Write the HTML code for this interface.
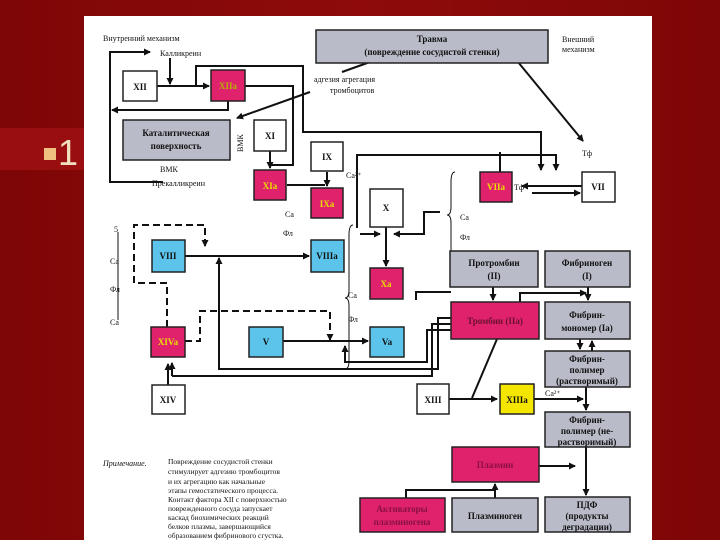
<!DOCTYPE html>
<html><head><meta charset="utf-8">
<style>
html,body{margin:0;padding:0;}
body{width:720px;height:540px;overflow:hidden;background:linear-gradient(90deg,#7e0606,#8f0b0b 50%,#7e0606);position:relative;font-family:"Liberation Serif",serif;}
.band{position:absolute;left:0;top:128px;width:90px;height:42px;background:#990f0f;}
.bul{position:absolute;left:44px;top:148px;width:12px;height:12px;background:#f0c080;}
.one{position:absolute;left:58px;top:132px;color:#f0e0c0;font:36px "Liberation Sans",sans-serif;}
svg{position:absolute;left:0;top:0;}
</style></head><body>
<div class="band"></div><div class="bul"></div><div class="one">1</div>
<svg width="720" height="540" viewBox="0 0 720 540" font-family="Liberation Serif, serif">
<defs>
<marker id="a" markerWidth="7" markerHeight="7" refX="6" refY="3.5" orient="auto" markerUnits="userSpaceOnUse"><path d="M0,0 L7,3.5 L0,7 z" fill="#111"/></marker>
</defs>
<rect x="84" y="16" width="568" height="524" fill="#fff"/>
<g fill="none" stroke="#111" stroke-width="2">
<path d="M163,182 H110 V52 H150" marker-end="url(#a)"/>
<path d="M228,101 V110 H112" marker-end="url(#a)"/>
<path d="M170,58 V84" marker-end="url(#a)"/>
<path d="M157,86 H209" marker-end="url(#a)"/>
<path d="M196,86 V66 H303 V132 H541 V170" marker-end="url(#a)"/>
<path d="M245,86 H293 V165 H270" />
<path d="M270,151 V168" marker-end="url(#a)"/>
<path d="M518,62 L583,141" marker-end="url(#a)"/>
<path d="M370,62 L342,72"/>
<path d="M310,92 L237,118" marker-end="url(#a)"/>
<path d="M287,185 H325"/>
<path d="M327,172 V186" marker-end="url(#a)"/>
<path d="M357,228 V155 H556 V170" marker-end="url(#a)"/>
<path d="M500,172 V152"/>
<path d="M582,186 H522" marker-end="url(#a)"/>
<path d="M532,193 H580" marker-end="url(#a)"/>
<path d="M386,227 V266" marker-end="url(#a)"/>
<path d="M360,234 H380" marker-end="url(#a)"/>
<path d="M440,212 H424 V234 H394" marker-end="url(#a)"/>
<path d="M185,256 H309" marker-end="url(#a)"/>
<path d="M283,341 H368" marker-end="url(#a)"/>
<path d="M451,318 H438 V369 H219 V258" marker-end="url(#a)"/>
<path d="M451,324 H432 V376 H172" />
<path d="M172,376 V363" marker-end="url(#a)"/>
<path d="M451,330 H427 V362 H345 V346" marker-end="url(#a)"/>
<path d="M168,385 V364" marker-end="url(#a)"/>
<path d="M497,339 L472,398"/>
<path d="M449,399 H497" marker-end="url(#a)"/>
<path d="M534,399 H583" marker-end="url(#a)"/>
<path d="M493,287 V300" marker-end="url(#a)"/>
<path d="M416,300 V292 H451"/>
<path d="M588,287 V300" marker-end="url(#a)"/>
<path d="M520,302 V293 H586" marker-end="url(#a)"/>
<path d="M580,339 V349" marker-end="url(#a)"/>
<path d="M592,351 V341" marker-end="url(#a)"/>
<path d="M586,387 V410" marker-end="url(#a)"/>
<path d="M586,447 V495" marker-end="url(#a)"/>
<path d="M539,466 H575" marker-end="url(#a)"/>
<path d="M406,498 V490 H495 V484" marker-end="url(#a)"/>
<path d="M495,498 V484"/>
</g>
<g fill="none" stroke="#111" stroke-width="2" stroke-dasharray="7,4">
<path d="M167,327 V283 H134 V225 H205 V246" marker-end="url(#a)"/>
<path d="M185,341 H200 V311 H330 V340" marker-end="url(#a)"/>
</g>
<g stroke="#111" stroke-width="1">
<path d="M353,225 q-4,0 -4,10 v55 q0,8 -4,8 q4,0 4,8 v55 q0,8 -4,8" fill="none"/>
<path d="M455,172 q-4,0 -4,10 v25 q0,8 -4,8 q4,0 4,8 v25 q0,8 4,8" fill="none"/>
<path d="M118,232 V320" />
</g>
<g stroke="#222" stroke-width="1.5">
<rect x="316" y="30" width="232" height="33" fill="#b9bbc8"/>
<rect x="123" y="71" width="34" height="30" fill="#fff"/>
<rect x="211" y="70" width="34" height="31" fill="#e0226c"/>
<rect x="123" y="120" width="107" height="40" fill="#b9bbc8"/>
<rect x="254" y="120" width="32" height="31" fill="#fff"/>
<rect x="311" y="142" width="32" height="29" fill="#fff"/>
<rect x="254" y="170" width="32" height="30" fill="#e0226c"/>
<rect x="311" y="188" width="32" height="30" fill="#e0226c"/>
<rect x="370" y="189" width="33" height="38" fill="#fff"/>
<rect x="480" y="172" width="32" height="30" fill="#e0226c"/>
<rect x="582" y="172" width="33" height="30" fill="#fff"/>
<rect x="152" y="240" width="33" height="32" fill="#5cc3ea"/>
<rect x="311" y="240" width="33" height="32" fill="#5cc3ea"/>
<rect x="370" y="268" width="33" height="31" fill="#e0226c"/>
<rect x="450" y="251" width="88" height="36" fill="#b9bbc8"/>
<rect x="545" y="251" width="85" height="36" fill="#b9bbc8"/>
<rect x="451" y="302" width="88" height="37" fill="#e0226c"/>
<rect x="545" y="302" width="85" height="37" fill="#b9bbc8"/>
<rect x="151" y="327" width="34" height="30" fill="#e0226c"/>
<rect x="249" y="327" width="34" height="30" fill="#5cc3ea"/>
<rect x="370" y="327" width="34" height="30" fill="#5cc3ea"/>
<rect x="545" y="351" width="85" height="36" fill="#b9bbc8"/>
<rect x="152" y="385" width="33" height="29" fill="#fff"/>
<rect x="417" y="384" width="32" height="30" fill="#fff"/>
<rect x="500" y="384" width="34" height="30" fill="#f5e600"/>
<rect x="545" y="412" width="85" height="35" fill="#b9bbc8"/>
<rect x="452" y="447" width="87" height="35" fill="#e0226c"/>
<rect x="360" y="498" width="85" height="34" fill="#e0226c"/>
<rect x="452" y="498" width="86" height="34" fill="#b9bbc8"/>
<rect x="545" y="497" width="85" height="35" fill="#b9bbc8"/>
</g>
<g font-size="9" fill="#111" text-anchor="middle" font-weight="bold">
<text x="432" y="42">Травма</text>
<text x="432" y="55">(повреждение сосудистой стенки)</text>
<text x="140" y="90">XII</text>
<text x="228" y="89" fill="#b3b300">XIIa</text>
<text x="176" y="136">Каталитическая</text>
<text x="176" y="149">поверхность</text>
<text x="270" y="139">XI</text>
<text x="327" y="160">IX</text>
<text x="270" y="189" fill="#e8e000">XIa</text>
<text x="327" y="207" fill="#e8e000">IXa</text>
<text x="386" y="211">X</text>
<text x="496" y="190" fill="#e8e000">VIIa</text>
<text x="598" y="190">VII</text>
<text x="168" y="259">VIII</text>
<text x="327" y="259">VIIIa</text>
<text x="386" y="287" fill="#e8e000">Xa</text>
<text x="494" y="266">Протромбин</text>
<text x="494" y="279">(II)</text>
<text x="587" y="266">Фибриноген</text>
<text x="587" y="279">(I)</text>
<text x="495" y="324" fill="#6a1030">Тромбин (IIa)</text>
<text x="587" y="318">Фибрин-</text>
<text x="587" y="331">мономер (Ia)</text>
<text x="168" y="345" fill="#e8e000">XIVa</text>
<text x="266" y="345">V</text>
<text x="387" y="345">Va</text>
<text x="587" y="362">Фибрин-</text>
<text x="587" y="373">полимер</text>
<text x="587" y="384">(растворимый)</text>
<text x="168" y="403">XIV</text>
<text x="433" y="403">XIII</text>
<text x="517" y="403">XIIIa</text>
<text x="587" y="423">Фибрин-</text>
<text x="587" y="434">полимер (не-</text>
<text x="587" y="445">растворимый)</text>
<text x="495" y="468" fill="#8a1040">Плазмин</text>
<text x="402" y="512" fill="#8a1040">Активаторы</text>
<text x="402" y="525" fill="#8a1040">плазминогена</text>
<text x="495" y="519">Плазминоген</text>
<text x="587" y="508">ПДФ</text>
<text x="587" y="519">(продукты</text>
<text x="587" y="530">деградации)</text>
</g>
<g font-size="8" fill="#111">
<text x="103" y="41">Внутренний механизм</text>
<text x="160" y="56">Калликреин</text>
<text x="314" y="82">адгезия агрегация</text>
<text x="330" y="93">тромбоцитов</text>
<text x="562" y="42">Внешний</text>
<text x="562" y="52">механизм</text>
<text x="582" y="156">Тф</text>
<text x="514" y="190">Тф</text>
<text x="160" y="172">ВМК</text>
<text x="152" y="186">Прекалликреин</text>
<text x="240" y="155" transform="rotate(-90 240 152)">ВМК</text>
<text x="346" y="178">Ca²⁺</text>
<text x="285" y="217">Ca</text>
<text x="283" y="236">Фл</text>
<text x="460" y="220">Ca</text>
<text x="460" y="240">Фл</text>
<text x="114" y="232">5</text>
<text x="110" y="264">Ca</text>
<text x="110" y="292">Фл</text>
<text x="110" y="325">Ca</text>
<text x="348" y="298">Ca</text>
<text x="348" y="322">Фл</text>
<text x="545" y="396">Ca²⁺</text>
<text x="103" y="466" font-style="italic">Примечание.</text>
</g>
<g font-size="7.5" fill="#111">
<text x="168" y="464">Повреждение сосудистой стенки</text>
<text x="168" y="474">стимулирует адгезию тромбоцитов</text>
<text x="168" y="484">и их агрегацию как начальные</text>
<text x="168" y="493">этапы гемостатического процесса.</text>
<text x="168" y="502">Контакт фактора XII с поверхностью</text>
<text x="168" y="511">поврежденного сосуда запускает</text>
<text x="168" y="520">каскад биохимических реакций</text>
<text x="168" y="529">белков плазмы, завершающийся</text>
<text x="168" y="538">образованием фибринового сгустка.</text>
</g>
</svg>
</body></html>
